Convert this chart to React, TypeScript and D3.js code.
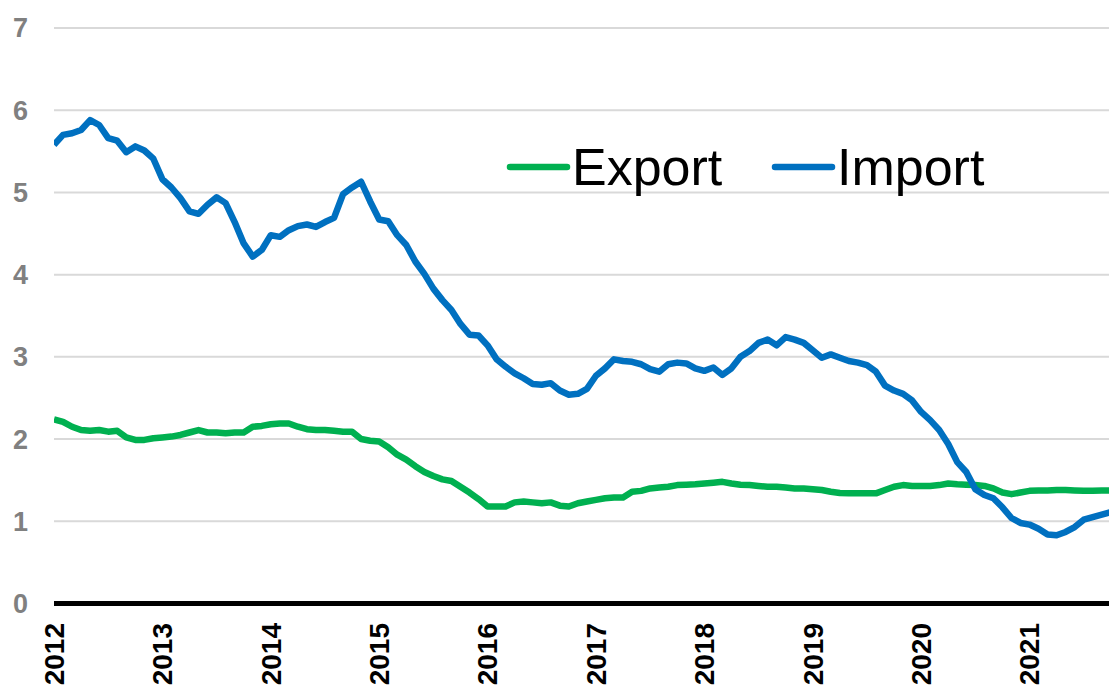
import React from 'react';
import * as d3 from 'd3';

const yearLabels = ['2012', '2013', '2014', '2015', '2016', '2017', '2018', '2019', '2020', '2021'];
const yTicks = [0, 1, 2, 3, 4, 5, 6, 7];

// Monthly values, Jan 2012 .. Oct 2021
const importValues = [
  5.58, 5.70, 5.72, 5.76, 5.88, 5.82, 5.66, 5.63, 5.49, 5.56, 5.51, 5.41,
  5.16, 5.06, 4.93, 4.77, 4.74, 4.85, 4.94, 4.87, 4.64, 4.38, 4.22, 4.30,
  4.48, 4.46, 4.54, 4.59, 4.61, 4.58, 4.64, 4.69, 4.98, 5.06, 5.13, 4.89,
  4.67, 4.65, 4.48, 4.36, 4.16, 4.01, 3.83, 3.69, 3.57, 3.40, 3.27, 3.26,
  3.14, 2.97, 2.88, 2.80, 2.74, 2.67, 2.66, 2.68, 2.59, 2.54, 2.55, 2.61,
  2.77, 2.86, 2.97, 2.95, 2.94, 2.91, 2.85, 2.82, 2.91, 2.93, 2.92, 2.86,
  2.83, 2.87, 2.78, 2.86, 3.00, 3.07, 3.17, 3.21, 3.14, 3.24, 3.21, 3.17,
  3.08, 2.99, 3.03, 2.99, 2.95, 2.93, 2.90, 2.82, 2.65, 2.59, 2.55, 2.47,
  2.33, 2.23, 2.11, 1.94, 1.72, 1.60, 1.39, 1.32, 1.28, 1.17, 1.04, 0.98,
  0.96, 0.91, 0.84, 0.83, 0.87, 0.93, 1.02, 1.05, 1.08, 1.11,
];

const exportValues = [
  2.24, 2.21, 2.15, 2.11, 2.10, 2.11, 2.09, 2.10, 2.02, 1.99, 1.99, 2.01,
  2.02, 2.03, 2.05, 2.08, 2.11, 2.08, 2.08, 2.07, 2.08, 2.08, 2.15, 2.16,
  2.18, 2.19, 2.19, 2.15, 2.12, 2.11, 2.11, 2.10, 2.09, 2.09, 2.00, 1.98,
  1.97, 1.90, 1.81, 1.75, 1.67, 1.60, 1.55, 1.51, 1.49, 1.42, 1.35, 1.27,
  1.18, 1.18, 1.18, 1.23, 1.24, 1.23, 1.22, 1.23, 1.19, 1.18, 1.22, 1.24,
  1.26, 1.28, 1.29, 1.29, 1.36, 1.37, 1.40, 1.41, 1.42, 1.44, 1.445, 1.45,
  1.46, 1.47, 1.48, 1.46, 1.445, 1.44, 1.43, 1.42, 1.42, 1.41, 1.40, 1.40,
  1.39, 1.38, 1.36, 1.345, 1.34, 1.34, 1.34, 1.34, 1.38, 1.42, 1.44, 1.43,
  1.43, 1.43, 1.44, 1.46, 1.45, 1.445, 1.44, 1.43, 1.40, 1.35, 1.33, 1.35,
  1.37, 1.375, 1.375, 1.38, 1.38, 1.375, 1.37, 1.37, 1.375, 1.375,
];

const seriesNames = ['Export', 'Import'];
const seriesColors = ['#00b050', '#0070c0'];

const W = 1109;
const H = 689;
const left = 54;
const right = 1109;
const font = '"Liberation Sans", Arial, Helvetica, sans-serif';

export default function App() {
  const x = d3.scaleLinear().domain([0, 116.8]).range([left, right]);
  const y = d3.scaleLinear().domain([0, 7]).range([603.5, 28]);
  const line = d3
    .line<number>()
    .x((_, i) => x(i))
    .y((d) => y(d));

  const series = [exportValues, importValues];

  return (
    <svg
      width={W}
      height={H}
      style={{ position: 'absolute', left: 0, top: 0, background: '#fff' }}
      fontFamily={font}
    >
      <defs>
        <clipPath id="plot">
          <rect x={left} y={0} width={right - left} height={H} />
        </clipPath>
      </defs>
      {yTicks.filter((t) => t > 0).map((t) => (
        <line key={'g' + t} x1={left} x2={right} y1={y(t)} y2={y(t)} stroke="#d9d9d9" strokeWidth={2} />
      ))}
      {yTicks.map((t) => (
        <text
          key={'y' + t}
          x={28}
          y={y(t)}
          dy="0.35em"
          textAnchor="end"
          fontSize={27}
          fontWeight="bold"
          fill="#808080"
        >
          {t}
        </text>
      ))}
      <g clipPath="url(#plot)">
        {series.map((s, k) => (
          <path
            key={seriesNames[k]}
            d={line(s) || ''}
            fill="none"
            stroke={seriesColors[k]}
            strokeWidth={6.5}
            strokeLinejoin="round"
          />
        ))}
      </g>
      <line x1={left} x2={right} y1={y(0)} y2={y(0)} stroke="#000" strokeWidth={5} />
      {yearLabels.map((lab, i) => (
        <text
          key={lab}
          transform={`translate(${x(i * 12)},623) rotate(-90)`}
          dy="0.35em"
          textAnchor="end"
          fontSize={28}
          fontWeight="bold"
          fill="#000"
        >
          {lab}
        </text>
      ))}
      {seriesNames.map((name, k) => {
        const lx = k === 0 ? 510 : 775;
        return (
          <g key={'leg' + name}>
            <line
              x1={lx}
              x2={lx + 57}
              y1={167}
              y2={167}
              stroke={seriesColors[k]}
              strokeWidth={6.5}
              strokeLinecap="round"
            />
            <text x={lx + 62} y={185} fontSize={52} fill="#000">
              {name}
            </text>
          </g>
        );
      })}
    </svg>
  );
}
